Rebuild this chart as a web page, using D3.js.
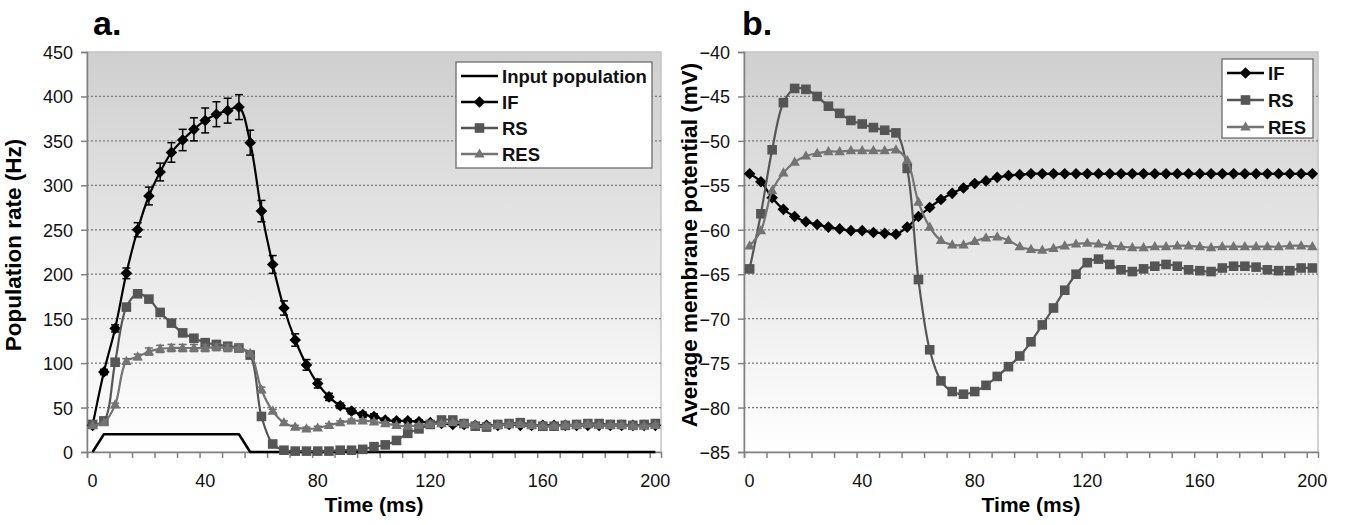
<!DOCTYPE html>
<html>
<head>
<meta charset="utf-8">
<script src="https://cdn.jsdelivr.net/npm/d3@7"></script>
<style>
  html, body { margin: 0; padding: 0; background: #fff; }
  svg { display: block; font-family: "Liberation Sans", Arial, sans-serif; }
</style>
</head>
<body>
<svg id="chart" width="1346" height="525"></svg>
<script>
// ---------------- DATA ----------------
const time = [0,4,8,12,16,20,24,28,32,36,40,44,48,52,56,60,64,68,72,76,80,84,88,92,96,100,
  104,108,112,116,120,124,128,132,136,140,144,148,152,156,160,164,168,172,176,180,184,188,192,196,200];

const xTickLabels = [0, 40, 80, 120, 160, 200];
const xMinorTicks = [-2,6,14,22,30,38,46,54,62,70,78,86,94,102,110,118,126,134,142,150,158,166,174,182,190,198];
const rateTicks = [0, 50, 100, 150, 200, 250, 300, 350, 400, 450];
const vmTicks = [-85, -80, -75, -70, -65, -60, -55, -50, -45, -40];

// Panel a: population rate (Hz)
const inputRate = [0,20,20,20,20,20,20,20,20,20,20,20,20,20,0,0,0,0,0,0,0,0,0,0,0,0,
  0,0,0,0,0,0,0,0,0,0,0,0,0,0,0,0,0,0,0,0,0,0,0,0,0];
const ifRate = [30,90,139,201,250,288,315,337,351,363,373,380,384,388,348,271,211,162,126,98,77,62,52,46,42,40,
  36,35,35,34,33,32,31,31,30,30,30,31,30,30,30,30,30,30,30,30,30,30,30,30,30];
const ifRateErr = [1,3,4,6,8,10,10,11,12,13,14,14,14,14,14,12,10,8,7,6,5,4,3,3,3,3,
  2,2,2,2,2,2,2,2,2,2,2,2,2,2,2,2,2,2,2,2,2,2,2,2,2];
const rsRate = [31,35,101,163,178,172,157,145,134,128,123,121,119,117,109,40,9,2,1,1,1,1,2,2,3,6,
  8,13,21,26,31,36,36,32,29,28,31,32,33,31,29,29,30,31,32,32,31,31,30,31,32];
const resRate = [30,33,53,102,107,113,116,117,117,117,117,118,117,117,111,70,46,33,28,26,27,30,33,35,35,34,
  32,30,29,30,31,32,33,32,30,29,30,31,31,30,29,29,30,30,31,30,30,30,29,29,30];
const resRateErr = [0,1,2,3,3,4,4,4,4,4,4,4,4,4,3,3,2,2,2,2,2,2,2,2,2,2,
  2,2,2,2,2,2,2,2,2,2,2,2,2,2,2,2,2,2,2,2,2,2,2,2,2];

// Panel b: average membrane potential (mV)
const ifVm = [-53.7,-54.6,-56.4,-57.7,-58.5,-59.1,-59.4,-59.7,-59.9,-60.1,-60.1,-60.3,-60.4,-60.5,-59.7,-58.5,-57.5,-56.6,-55.9,-55.3,-54.8,-54.5,-54.1,-53.9,-53.8,-53.7,
  -53.7,-53.7,-53.7,-53.7,-53.7,-53.7,-53.7,-53.7,-53.7,-53.7,-53.7,-53.7,-53.7,-53.7,-53.7,-53.7,-53.7,-53.7,-53.7,-53.7,-53.7,-53.7,-53.7,-53.7,-53.7];
const rsVm = [-64.4,-58.2,-51.0,-45.7,-44.1,-44.2,-45.0,-46.1,-46.9,-47.7,-48.1,-48.5,-48.8,-49.1,-53.1,-65.6,-73.5,-77.0,-78.2,-78.5,-78.2,-77.5,-76.5,-75.4,-74.2,-72.6,
  -70.7,-68.8,-66.8,-65.0,-63.7,-63.3,-63.9,-64.5,-64.7,-64.4,-64.1,-63.9,-64.1,-64.5,-64.6,-64.7,-64.3,-64.1,-64.1,-64.2,-64.5,-64.6,-64.6,-64.3,-64.3];
const resVm = [-61.8,-60.1,-55.6,-53.6,-52.4,-51.7,-51.4,-51.2,-51.2,-51.1,-51.1,-51.1,-51.1,-51.0,-52.2,-56.9,-59.7,-61.2,-61.7,-61.7,-61.3,-60.9,-60.8,-61.2,-61.9,-62.2,
  -62.3,-62.1,-61.8,-61.6,-61.5,-61.6,-61.8,-61.9,-62.0,-62.0,-61.9,-61.9,-61.8,-61.8,-61.9,-62.0,-61.9,-61.9,-61.9,-61.9,-61.9,-61.9,-61.8,-61.8,-61.9];

// ---------------- STYLE ----------------
const FONT = '"Liberation Sans", Arial, sans-serif';
const C_IF = "#000000", C_RS = "#555555", C_RES = "#737373", C_INPUT = "#000000";
const markerPaths = {
  diamond: "M0,-5.8L5.8,0L0,5.8L-5.8,0Z",
  square: "M-4.8,-4.8L4.8,-4.8L4.8,4.8L-4.8,4.8Z",
  triangle: "M0,-5.6L5.2,3.6L-5.2,3.6Z",
  none: null
};

const svg = d3.select("#chart");
const defs = svg.append("defs");
const grad = defs.append("linearGradient").attr("id", "bg").attr("x1", 0).attr("y1", 0).attr("x2", 0).attr("y2", 1);
grad.append("stop").attr("offset", "0%").attr("stop-color", "#cfcfcf");
grad.append("stop").attr("offset", "100%").attr("stop-color", "#ffffff");

function drawPanel(cfg) {
  const x = d3.scaleLinear().domain([-2, 202]).range([cfg.left, cfg.right]);
  const y = d3.scaleLinear().domain(cfg.yDomain).range([cfg.bottom, cfg.top]);
  const g = svg.append("g");

  // plot background
  g.append("rect").attr("x", cfg.left).attr("y", cfg.top)
    .attr("width", cfg.right - cfg.left).attr("height", cfg.bottom - cfg.top)
    .attr("fill", "url(#bg)").attr("stroke", "#c4c4c4").attr("stroke-width", 1.5);

  // gridlines
  g.selectAll(".grid").data(cfg.yTicks.slice(1, -1)).enter().append("line")
    .attr("x1", cfg.left).attr("x2", cfg.right)
    .attr("y1", d => y(d)).attr("y2", d => y(d))
    .attr("stroke", "#7a7a7a").attr("stroke-width", 1.2).attr("stroke-dasharray", "2,2");

  // y axis
  const yAxis = d3.axisLeft(y).tickValues(cfg.yTicks).tickSize(6).tickPadding(8).tickFormat(d3.format("d"));
  const ya = g.append("g").attr("transform", `translate(${cfg.left},0)`).call(yAxis);
  ya.select(".domain").attr("stroke", "#808080").attr("stroke-width", 1.5);
  ya.selectAll(".tick line").attr("stroke", "#808080").attr("stroke-width", 1.5);
  ya.selectAll(".tick text").attr("font-family", FONT).attr("font-size", 18).attr("fill", "#111").attr("dy", "0.36em");

  // x axis (minor ticks) and labels
  const xAxis = d3.axisBottom(x).tickValues(xMinorTicks).tickSize(6).tickFormat("");
  const xa = g.append("g").attr("transform", `translate(0,${cfg.bottom})`).call(xAxis);
  xa.select(".domain").attr("stroke", "#808080").attr("stroke-width", 1.5);
  xa.selectAll(".tick line").attr("stroke", "#808080").attr("stroke-width", 1.5);
  g.selectAll(".xlab").data(xTickLabels).enter().append("text")
    .attr("x", d => x(d)).attr("y", cfg.bottom + 35)
    .attr("text-anchor", "middle").attr("font-family", FONT).attr("font-size", 18).attr("fill", "#111")
    .text(d => d);

  // axis titles
  g.append("text").attr("x", (x(0) + x(200)) / 2).attr("y", 512)
    .attr("text-anchor", "middle").attr("font-family", FONT).attr("font-size", 21).attr("font-weight", "bold")
    .text("Time (ms)");
  g.append("text").attr("transform", `translate(${cfg.yTitleX},245) rotate(-90)`)
    .attr("text-anchor", "middle").attr("font-family", FONT).attr("font-size", cfg.yTitleSize).attr("font-weight", "bold")
    .text(cfg.yTitle);

  // panel letter
  g.append("text").attr("x", cfg.letterX).attr("y", 35)
    .attr("font-family", FONT).attr("font-size", 34).attr("font-weight", "bold").text(cfg.letter);

  // series
  cfg.series.forEach(s => {
    const pts = time.map((t, i) => ({ t, v: s.values[i], e: s.err ? s.err[i] : 0 }));
    const line = d3.line().x(d => x(d.t)).y(d => y(d.v))
      .curve(s.smooth ? d3.curveCatmullRom.alpha(0.5) : d3.curveLinear);
    g.append("path").datum(pts).attr("d", line).attr("fill", "none")
      .attr("stroke", s.color).attr("stroke-width", s.width).attr("stroke-linejoin", "round");
    if (s.err) {
      const eg = g.append("g").attr("stroke", s.errColor).attr("stroke-width", 1.5);
      pts.filter(d => d.e > 0).forEach(d => {
        const cx = x(d.t), y1 = y(d.v - d.e), y2 = y(d.v + d.e);
        eg.append("line").attr("x1", cx).attr("x2", cx).attr("y1", y1).attr("y2", y2);
        eg.append("line").attr("x1", cx - 4).attr("x2", cx + 4).attr("y1", y1).attr("y2", y1);
        eg.append("line").attr("x1", cx - 4).attr("x2", cx + 4).attr("y1", y2).attr("y2", y2);
      });
    }
    if (s.marker !== "none") {
      g.selectAll(null).data(pts).enter().append("path")
        .attr("d", markerPaths[s.marker])
        .attr("transform", d => `translate(${x(d.t)},${y(d.v)})`)
        .attr("fill", s.color);
    }
  });

  // legend
  const L = cfg.legend;
  g.append("rect").attr("x", L.x).attr("y", L.y).attr("width", L.w).attr("height", L.h)
    .attr("fill", "#fff").attr("stroke", "#6e6e6e").attr("stroke-width", 1.3);
  cfg.series.forEach((s, i) => {
    const cy = L.y + L.first + i * L.step;
    g.append("line").attr("x1", L.x + 5).attr("x2", L.x + 42).attr("y1", cy).attr("y2", cy)
      .attr("stroke", s.color).attr("stroke-width", 2.5);
    if (s.marker !== "none") {
      g.append("path").attr("d", markerPaths[s.marker])
        .attr("transform", `translate(${L.x + 23.5},${cy})`).attr("fill", s.color);
    }
    g.append("text").attr("x", L.x + 46).attr("y", cy).attr("dy", "0.36em")
      .attr("font-family", FONT).attr("font-size", 18.5).attr("font-weight", "bold").attr("fill", "#111")
      .text(s.name);
  });
}

drawPanel({
  left: 87, right: 661, top: 52, bottom: 452,
  yDomain: [0, 450], yTicks: rateTicks,
  yTitle: "Population rate (Hz)", yTitleX: 21, yTitleSize: 22.5,
  letter: "a.", letterX: 93,
  legend: { x: 456, y: 62, w: 196, h: 106, first: 14, step: 26 },
  series: [
    { name: "Input population", values: inputRate, color: C_INPUT, width: 2.5, marker: "none", smooth: false },
    { name: "IF", values: ifRate, err: ifRateErr, errColor: "#000", color: C_IF, width: 2.2, marker: "diamond", smooth: true },
    { name: "RS", values: rsRate, color: C_RS, width: 2.2, marker: "square", smooth: true },
    { name: "RES", values: resRate, err: resRateErr, errColor: "#6a6a6a", color: C_RES, width: 2.2, marker: "triangle", smooth: true }
  ]
});

drawPanel({
  left: 744, right: 1318, top: 52, bottom: 452,
  yDomain: [-85, -40], yTicks: vmTicks,
  yTitle: "Average membrane potential (mV)", yTitleX: 697, yTitleSize: 22.5,
  letter: "b.", letterX: 742,
  legend: { x: 1222, y: 59, w: 91, h: 79, first: 14, step: 27 },
  series: [
    { name: "IF", values: ifVm, color: C_IF, width: 2.2, marker: "diamond", smooth: true },
    { name: "RS", values: rsVm, color: C_RS, width: 2.2, marker: "square", smooth: true },
    { name: "RES", values: resVm, color: C_RES, width: 2.2, marker: "triangle", smooth: true }
  ]
});
</script>
</body>
</html>
